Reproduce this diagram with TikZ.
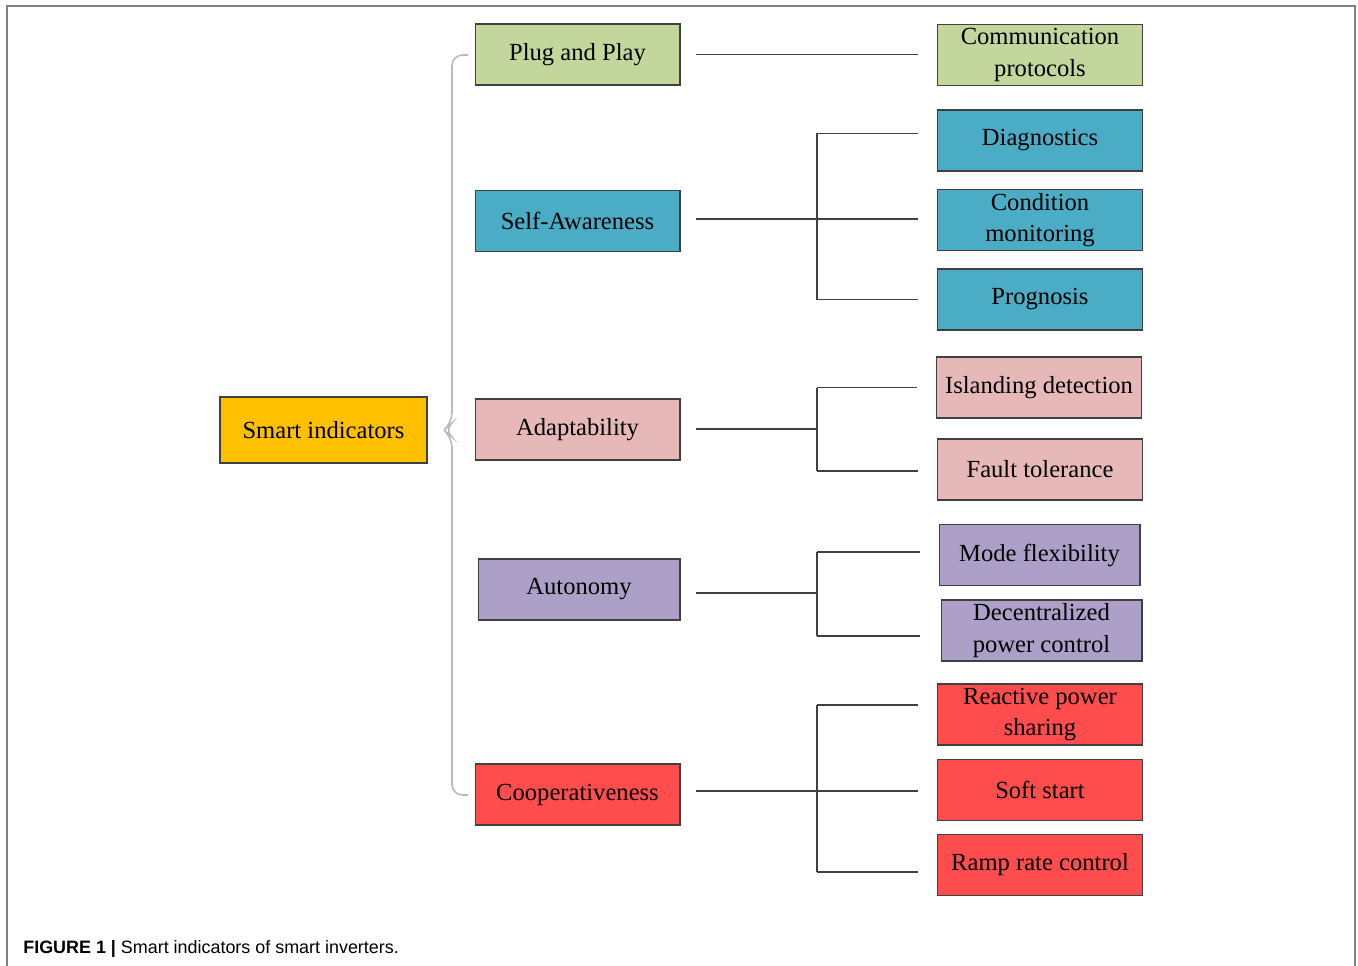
\documentclass[tikz,border=0pt]{standalone}
\usepackage{fontspec}
\setmainfont{Liberation Serif}
\newfontfamily\capfont{Liberation Sans}
\usetikzlibrary{calc}

\definecolor{cgold}{HTML}{FFC000}
\definecolor{cgreen}{HTML}{C3D69B}
\definecolor{cblue}{HTML}{4BACC6}
\definecolor{cpink}{HTML}{E6B9B8}
\definecolor{cviolet}{HTML}{ACA0C8}
\definecolor{cred}{HTML}{FF4D4D}
\definecolor{cline}{HTML}{404040}

\begin{document}
\begin{tikzpicture}[x=0.02cm,y=-0.02cm,
  box/.style={draw=cline,line width=0.6pt,minimum width=4.1cm,minimum height=1.22cm,
    inner sep=0pt,align=center,font=\fontsize{14}{18}\selectfont},
  link/.style={draw=cline,line width=0.85pt},
  pre/.style={shorten <=0.3cm},
  post/.style={shorten >=0.38cm}]
  \useasboundingbox (0,0) rectangle (1358,966);

  % frame and caption
  \draw[gray,line width=1.1pt] (7,966) -- (7,6) -- (1355,6) -- (1355,966);
  \node[anchor=base west,inner sep=0pt,font=\capfont\fontsize{10.2}{12}\selectfont] (cap) at (23,953)
    {\textbf{FIGURE 1 |} Smart indicators of smart inverters.};

  % left column
  \node[box,fill=cgold,minimum width=4.14cm,minimum height=1.32cm] (smart) at (323.5,430) {Smart indicators};
  \node[box,fill=cgreen] (plug) at (577.5,54.5) {Plug and Play};
  \node[box,fill=cblue] (self) at (577.5,221) {Self-Awareness};
  \node[box,fill=cpink] (adapt) at (577.5,429.5) {Adaptability};
  \node[box,fill=cviolet,minimum width=4.04cm] (auton) at (579,589.5) {Autonomy};
  \node[box,fill=cred] (coop) at (577.5,794.5) {Cooperativeness};

  % right column
  \node[box,fill=cgreen] (comm) at (1040,55) {Communication\\protocols};
  \node[box,fill=cblue] (diag) at (1040,140.5) {Diagnostics};
  \node[box,fill=cblue] (cond) at (1040,220) {Condition\\monitoring};
  \node[box,fill=cblue] (prog) at (1040,299.5) {Prognosis};
  \node[box,fill=cpink] (island) at (1039,387.5) {Islanding detection};
  \node[box,fill=cpink] (fault) at (1040,469.5) {Fault tolerance};
  \node[box,fill=cviolet,minimum width=4.02cm] (mode) at (1039.5,555) {Mode flexibility};
  \node[box,fill=cviolet,minimum width=4.02cm] (decent) at (1041.5,630.5) {Decentralized\\power control};
  \node[box,fill=cred] (react) at (1040,714.5) {Reactive power\\sharing};
  \node[box,fill=cred] (soft) at (1040,790) {Soft start};
  \node[box,fill=cred] (ramp) at (1040,865) {Ramp rate control};

  % brace
  \draw[gray!55,line width=0.9pt,rounded corners=6] (468,55) -| (452,423)
    -- (444,430) -- (452,437) |- (468,795);

  % connectors
  \draw[link,pre,post] (plug.east) -- (plug.east -| comm.west);

  \coordinate (jself) at (817,219);
  \draw[link,pre] (self.east |- jself) -- (jself);
  \draw[link] ($(jself |- diag.west)+(0,-7)$) -- (jself |- prog.west);
  \draw[link,post] ($(jself |- diag.west)+(0,-7)$) -- ($(diag.west)+(0,-7)$);
  \draw[link,post] (jself) -- (jself -| cond.west);
  \draw[link,post] (jself |- prog.west) -- (prog.west);

  \coordinate (jadapt) at (817,429);
  \draw[link,pre] (adapt.east |- jadapt) -- (jadapt);
  \draw[link] (jadapt |- island.west) -- ($(jadapt |- fault.west)+(0,1.5)$);
  \draw[link,post] (jadapt |- island.west) -- (island.west);
  \draw[link,post] ($(jadapt |- fault.west)+(0,1.5)$) -- ($(fault.west)+(0,1.5)$);

  \coordinate (jauton) at (817,593);
  \draw[link,pre] (auton.east |- jauton) -- (jauton);
  \draw[link] ($(jauton |- mode.west)+(0,-3)$) -- ($(jauton |- decent.west)+(0,5.5)$);
  \draw[link,post] ($(jauton |- mode.west)+(0,-3)$) -- ($(mode.west)+(0,-3)$);
  \draw[link,shorten >=0.42cm] ($(jauton |- decent.west)+(0,5.5)$) -- ($(decent.west)+(0,5.5)$);

  \coordinate (jcoop) at (817,791);
  \draw[link,pre] (coop.east |- jcoop) -- (jcoop);
  \draw[link] ($(jcoop |- react.west)+(0,-9.5)$) -- ($(jcoop |- ramp.west)+(0,7)$);
  \draw[link,post] ($(jcoop |- react.west)+(0,-9.5)$) -- ($(react.west)+(0,-9.5)$);
  \draw[link,post] (jcoop) -- (jcoop -| soft.west);
  \draw[link,post] ($(jcoop |- ramp.west)+(0,7)$) -- ($(ramp.west)+(0,7)$);
\end{tikzpicture}
\end{document}
